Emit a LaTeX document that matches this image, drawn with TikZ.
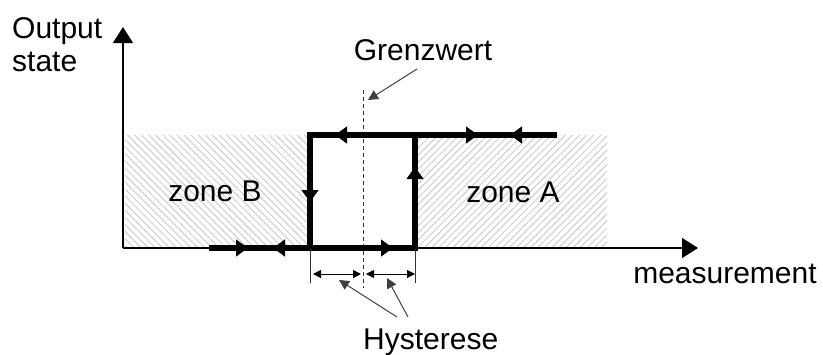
\documentclass[tikz,border=0pt]{standalone}
\usepackage{fontspec}
\setmainfont{Liberation Sans}
\usetikzlibrary{arrows.meta,patterns.meta}
\tikzset{
  lbl/.style={inner sep=0pt, font=\fontsize{30}{33}\selectfont},
  axisline/.style={line width=1.2pt, draw=black, -{Triangle[length=16pt,width=20pt]}},
  loopline/.style={line width=6pt, line cap=rect, line join=miter},
  looptip/.style={line width=1pt, -{Triangle[length=12pt,width=17pt]}},
  thinline/.style={line width=1pt, draw=black!80},
  dimarrow/.style={line width=1pt, {Triangle[length=8pt,width=8pt]}-{Triangle[length=8pt,width=8pt]}},
  pointer/.style={line width=1pt, draw=black!75, -{Triangle[length=10pt,width=10pt]}},
  hatchB/.style={pattern={Lines[angle=-45,distance=5pt,line width=0.8pt]}, pattern color=black!22},
  hatchA/.style={pattern={Lines[angle=45,distance=5pt,line width=0.8pt]}, pattern color=black!22},
}
\begin{document}
\begin{tikzpicture}[x=1pt,y=-1pt]
\useasboundingbox (0,0) rectangle (823,354);
% hatched zones
\fill[hatchB] (125,135) rectangle (308,248);
\fill[hatchA] (417,135) rectangle (607,248);
% axes
\coordinate (O) at (123,248);
\coordinate (ytip) at (123,27);
\coordinate (xtip) at (698,248);
\draw[axisline] (O) -- (ytip);
\draw[axisline] (O) -- (xtip);
% Grenzwert dashed line
\coordinate (gtop) at (363,90);
\coordinate (gbot) at (363,288);
\draw[thinline, dash pattern=on 4pt off 3pt] (gtop) -- (gbot);
% hysteresis loop corners
\coordinate (bl) at (212,248);
\coordinate (c1) at (310,248);
\coordinate (c2) at (415,248);
\coordinate (c3) at (415,135);
\coordinate (c4) at (310,135);
\coordinate (tr) at (554,135);
\draw[loopline] (bl) -- (c2) -- (c3) -- (c4) -- (c1);
\draw[loopline] (c3) -- (tr);
% arrow tips on loop
\draw[looptip] (236,248) -- (248,248);
\draw[looptip] (285,248) -- (273,248);
\draw[looptip] (381,248) -- (393,248);
\draw[looptip] (310,190) -- (310,202);
\draw[looptip] (415,179) -- (415,167);
\draw[looptip] (347,135) -- (335,135);
\draw[looptip] (466,135) -- (478,135);
\draw[looptip] (522,135) -- (510,135);
% hysteresis ticks and dimension arrows
\coordinate (t1a) at (310,249);
\coordinate (t1b) at (310,283);
\coordinate (t2a) at (415,249);
\coordinate (t2b) at (415,283);
\draw[thinline] (t1a) -- (t1b);
\draw[thinline] (t2a) -- (t2b);
\coordinate (d1a) at (313,274);
\coordinate (d1b) at (361,274);
\coordinate (d2a) at (366,274);
\coordinate (d2b) at (415,274);
\draw[dimarrow] (d1a) -- (d1b);
\draw[dimarrow] (d2a) -- (d2b);
% labels
\node[lbl, anchor=base west] (out) at (12,38) {Output};
\node[lbl, anchor=base west] (st) at (12,71) {state};
\node[lbl, anchor=base] (grenz) at (423,60) {Grenzwert};
\node[lbl, anchor=base] (meas) at (725,283) {measurement};
\node[lbl, anchor=base west] (hyst) at (363,349) {Hysterese};
\node[lbl, anchor=base] (zb) at (215,201) {zone B};
\node[lbl, anchor=base] (za) at (513,202) {zone A};
% pointers
\coordinate (gp) at (417,69);
\coordinate (gq) at (368,100);
\draw[pointer] (gp) -- (gq);
\coordinate (h1) at (397,317);
\coordinate (h1t) at (339,280);
\coordinate (h2) at (408,317);
\coordinate (h2t) at (387,278);
\draw[pointer] (h1) -- (h1t);
\draw[pointer] (h2) -- (h2t);
\end{tikzpicture}
\end{document}
